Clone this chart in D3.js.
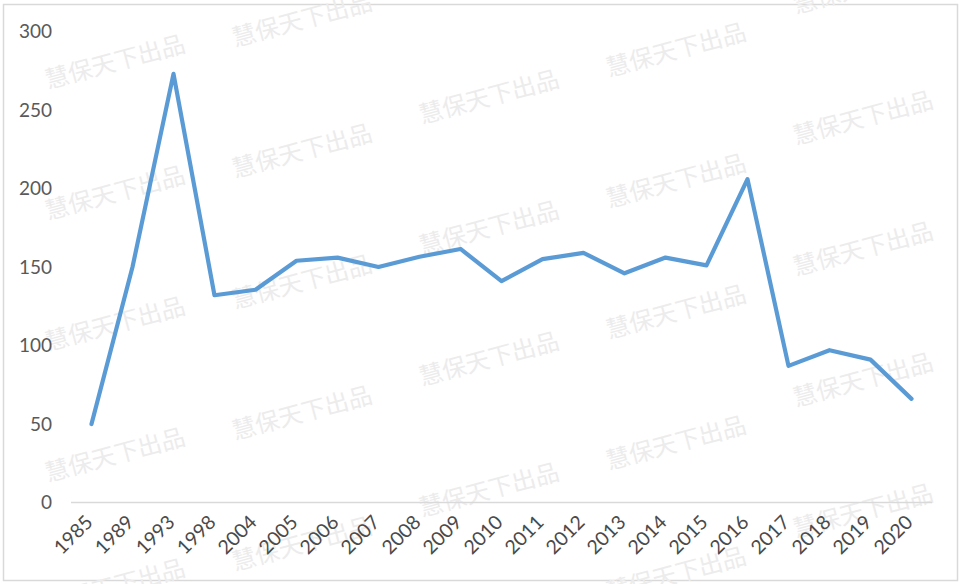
<!DOCTYPE html>
<html lang="zh">
<head>
<meta charset="UTF-8">
<title>Chart</title>
<style>
  body { margin: 0; background: #fff; }
  svg { display: block; }
</style>
</head>
<body>
<svg id="chart" width="962" height="584"></svg>
<script src="https://d3js.org/d3.v7.min.js"></script>
<script>
// data
const years = ["1985", "1989", "1993", "1998", "2004", "2005", "2006", "2007", "2008", "2009", "2010",
               "2011", "2012", "2013", "2014", "2015", "2016", "2017", "2018", "2019", "2020"];
const values = [50, 150, 273, 132, 135.5, 154, 156, 150, 156.5, 161.5, 141,
                155, 159, 146, 156, 151, 206, 87, 97, 91, 66];
const yTicks = [0, 50, 100, 150, 200, 250, 300];
const watermark = "慧保天下出品";

const svg = d3.select("#chart"),
    width = +svg.attr("width"),
    height = +svg.attr("height");

const margin = {top: 31.5, right: 30, bottom: 81.5, left: 71};

// outer frame
svg.append("rect")
    .attr("x", 3.5).attr("y", 4.5)
    .attr("width", width - 8).attr("height", height - 8)
    .attr("fill", "#fff")
    .attr("stroke", "#d9d9d9")
    .attr("stroke-width", 1.5);

// watermark grid (only the copies that show in the picture)
const wm = svg.append("g");
const colX = [115, 302, 489, 676, 863];
const colY0 = [62, 20, 97, 50, 118];
colX.forEach(function(cx, i) {
    for (let cy = colY0[i] - 131; cy < height + 15; cy += 131) {
        if (cy < -15) continue;
        wm.append("text")
            .attr("transform", "translate(" + cx + "," + cy + ") rotate(-15)")
            .attr("text-anchor", "middle")
            .attr("dy", "0.35em")
            .attr("font-family", "Noto Sans CJK SC")
            .attr("font-size", 24)
            .attr("fill", "#ececec")
            .text(watermark);
    }
});

const x = d3.scaleBand()
    .domain(years)
    .range([margin.left, width - margin.right]);

const y = d3.scaleLinear()
    .domain([0, 300])
    .range([height - margin.bottom, margin.top]);

// y axis labels
const yAxis = svg.append("g")
    .attr("transform", "translate(52,0)")
    .call(d3.axisLeft(y).tickValues(yTicks).tickSize(0).tickPadding(0));
yAxis.select(".domain").remove();
yAxis.selectAll("text")
    .attr("font-family", "Lato")
    .attr("font-size", 19)
    .attr("fill", "#595959");

// x axis line
svg.append("line")
    .attr("x1", margin.left).attr("x2", width - margin.right)
    .attr("y1", y(0)).attr("y2", y(0))
    .attr("stroke", "#d9d9d9")
    .attr("stroke-width", 1.5);

// x labels
svg.append("g")
    .selectAll("text")
    .data(years)
    .join("text")
    .attr("transform", d => "translate(" + (x(d) + x.bandwidth() / 2 + 2.5) + "," + (y(0) + 21) + ") rotate(-45)")
    .attr("text-anchor", "end")
    .attr("font-family", "Lato")
    .attr("font-size", 19.5)
    .attr("fill", "#4a4a4a")
    .text(d => d);

// the line
const line = d3.line()
    .x((d, i) => x(years[i]) + x.bandwidth() / 2)
    .y(d => y(d));

svg.append("path")
    .datum(values)
    .attr("fill", "none")
    .attr("stroke", "#5b9bd5")
    .attr("stroke-width", 4.2)
    .attr("stroke-linejoin", "round")
    .attr("stroke-linecap", "round")
    .attr("d", line);
</script>
</body>
</html>
